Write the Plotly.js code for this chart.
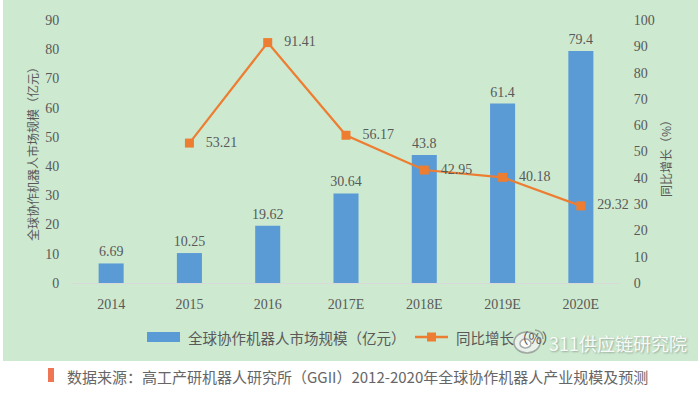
<!DOCTYPE html>
<html>
<head>
<meta charset="utf-8">
<script src="https://cdn.plot.ly/plotly-3.0.1.min.js"></script>
<style>html,body{margin:0;padding:0;background:#fff;}#chart{width:698px;height:400px;}</style>
</head>
<body>
<div id="chart"></div>
<script>
const categories = ["2014", "2015", "2016", "2017E", "2018E", "2019E", "2020E"];
const marketSize = [6.69, 10.25, 19.62, 30.64, 43.8, 61.4, 79.4];
const growthRate = [null, 53.21, 91.41, 56.17, 42.95, 40.18, 29.32];
const leftTicks = [0, 10, 20, 30, 40, 50, 60, 70, 80, 90];
const rightTicks = [0, 10, 20, 30, 40, 50, 60, 70, 80, 90, 100];
const seriesNames = ["全球协作机器人市场规模（亿元）", "同比增长（%）"];

const L = 72, R = 620, T = 20, B = 283;
const px = x => (x - L) / (R - L);
const py = y => (B - y) / (B - T);

const fontFam = '"Liberation Serif", "Noto Sans CJK SC", serif';
const cjk = '"Noto Sans CJK SC", sans-serif';
const grey = '#595959';
const blue = '#5b9bd5';
const orange = '#ed7d31';

const traces = [
  {
    type: 'bar', x: categories, y: marketSize, name: seriesNames[0],
    marker: {color: blue}, showlegend: false, hoverinfo: 'skip'
  },
  {
    type: 'scatter', mode: 'markers+text', x: categories, y: marketSize,
    marker: {size: 4, opacity: 0, color: blue},
    text: marketSize.map(v => String(v)), textposition: 'top center', cliponaxis: false,
    textfont: {family: fontFam, size: 14, color: grey},
    showlegend: false, hoverinfo: 'skip'
  },
  {
    type: 'scatter', mode: 'lines+markers+text', x: categories, y: growthRate, yaxis: 'y2',
    name: seriesNames[1],
    line: {color: orange, width: 2.2},
    marker: {color: orange, symbol: 'square', size: 9},
    text: growthRate.map(v => v === null ? '' : '\u2002\u2009' + v.toFixed(2)),
    textposition: 'middle right', cliponaxis: false,
    textfont: {family: fontFam, size: 14, color: grey},
    connectgaps: false, showlegend: false, hoverinfo: 'skip'
  }
];

const layout = {
  width: 698, height: 400,
  margin: {l: L, r: 698 - R, t: T, b: 400 - B, pad: 0},
  paper_bgcolor: '#ffffff', plot_bgcolor: 'rgba(0,0,0,0)',
  showlegend: false,
  bargap: 0.68,
  font: {family: fontFam, color: grey, size: 12},
  xaxis: {
    type: 'category', showgrid: false, zeroline: false,
    showline: true, linecolor: '#d9d9d9', linewidth: 1,
    ticks: 'outside', ticklen: 8, tickcolor: 'rgba(0,0,0,0)',
    tickfont: {family: fontFam, size: 14, color: grey}
  },
  yaxis: {
    range: [0, 90], tickvals: leftTicks, showgrid: false, zeroline: false, showline: false,
    ticks: 'outside', ticklen: 9, tickcolor: 'rgba(0,0,0,0)',
    tickfont: {family: fontFam, size: 14, color: grey}
  },
  yaxis2: {
    range: [0, 100], tickvals: rightTicks, overlaying: 'y', side: 'right',
    showgrid: false, zeroline: false, showline: false,
    ticks: 'outside', ticklen: 10, tickcolor: 'rgba(0,0,0,0)',
    tickfont: {family: fontFam, size: 14, color: grey}
  },
  shapes: [
    {type: 'rect', xref: 'paper', yref: 'paper', x0: px(3), x1: px(698), y0: py(361), y1: py(0),
     fillcolor: '#cde9d0', line: {width: 0}, layer: 'below'},
    {type: 'rect', xref: 'paper', yref: 'paper', x0: px(147), x1: px(180), y0: py(342), y1: py(332),
     fillcolor: blue, line: {width: 0}, layer: 'above'},
    {type: 'line', xref: 'paper', yref: 'paper', x0: px(415), x1: px(448), y0: py(337), y1: py(337),
     line: {color: orange, width: 2.5}, layer: 'above'},
    {type: 'rect', xref: 'paper', yref: 'paper', x0: px(427), x1: px(436), y0: py(341.5), y1: py(332.5),
     fillcolor: orange, line: {width: 0}, layer: 'above'},
    {type: 'rect', xref: 'paper', yref: 'paper', x0: px(48), x1: px(54), y0: py(382), y1: py(368),
     fillcolor: '#ef7654', line: {width: 0}, layer: 'above'},
    // watermark logo (drawn as shapes)
    {type: 'circle', xref: 'paper', yref: 'paper', x0: px(514), x1: px(540), y0: py(353), y1: py(332),
     fillcolor: 'rgba(235,242,236,0.9)', line: {color: 'rgba(110,110,110,0.55)', width: 1.5}, layer: 'above'},
    {type: 'circle', xref: 'paper', yref: 'paper', x0: px(520), x1: px(531), y0: py(348), y1: py(339),
     fillcolor: 'rgba(255,255,255,0.9)', line: {color: 'rgba(110,110,110,0.55)', width: 1.5}, layer: 'above'},
    {type: 'path', xref: 'paper', yref: 'paper',
     path: `M ${px(535)} ${py(330)} Q ${px(543)} ${py(331)} ${px(543)} ${py(339)}`,
     line: {color: 'rgba(110,110,110,0.55)', width: 1.5}, layer: 'above'}
  ],
  annotations: [
    {text: '全球协作机器人市场规模（亿元）', xref: 'paper', yref: 'paper', x: px(32), y: py(151),
     xanchor: 'center', yanchor: 'middle',
     textangle: -90, showarrow: false, font: {family: cjk, size: 12, color: grey}},
    {text: '同比增长（%）', xref: 'paper', yref: 'paper', x: px(665), y: py(156),
     xanchor: 'center', yanchor: 'middle',
     textangle: -90, showarrow: false, font: {family: cjk, size: 12, color: grey}},
    {text: seriesNames[0], xref: 'paper', yref: 'paper', x: px(186), y: py(337),
     xanchor: 'left', yanchor: 'middle', showarrow: false,
     font: {family: cjk, size: 14.5, color: grey}},
    {text: seriesNames[1], xref: 'paper', yref: 'paper', x: px(454), y: py(337),
     xanchor: 'left', yanchor: 'middle', showarrow: false,
     font: {family: cjk, size: 14.5, color: grey}},
    {text: '311供应链研究院', xref: 'paper', yref: 'paper', x: px(547), y: py(343),
     xanchor: 'left', yanchor: 'middle', showarrow: false,
     font: {family: cjk, size: 18, color: 'rgba(255,255,255,0.92)', shadow: '1px 1px 2px rgba(0,0,0,0.3)'}},
    {text: '数据来源：高工产研机器人研究所（GGII）2012-2020年全球协作机器人产业规模及预测',
     xref: 'paper', yref: 'paper', x: px(65), y: py(376), xanchor: 'left', yanchor: 'middle', showarrow: false,
     font: {family: cjk, size: 15, color: '#666666'}}
  ]
};

Plotly.newPlot('chart', traces, layout, {displayModeBar: false, staticPlot: true});
</script>
</body>
</html>
